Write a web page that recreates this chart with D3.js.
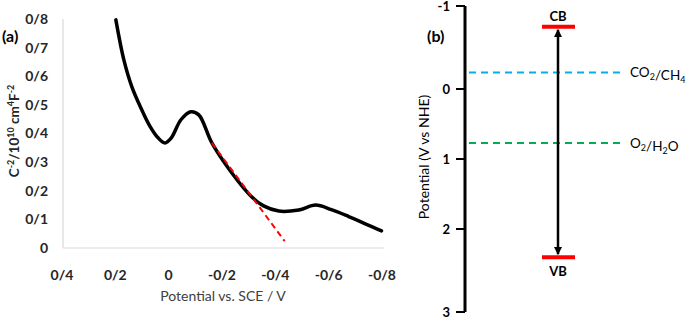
<!DOCTYPE html>
<html lang="en">
<head>
<meta charset="UTF-8" />
<title>Mott-Schottky and band positions</title>
<script src="https://cdn.jsdelivr.net/npm/d3@7"></script>
<style>
  body { margin: 0; background: #fff; }
  svg { display: block; font-family: Lato, "Open Sans", sans-serif; }
</style>
</head>
<body>
<div id="chart"></div>
<script>
// panel (a) - Mott-Schottky curve
var xTicks = [0.4, 0.2, 0, -0.2, -0.4, -0.6, -0.8];
var yTicks = [0, 0.1, 0.2, 0.3, 0.4, 0.5, 0.6, 0.7, 0.8];
var curveV = [0.198, 0.168, 0.138, 0.101, 0.070, 0.040, 0.014, -0.010, -0.046, -0.083, -0.113, -0.162, -0.237, -0.312, -0.356, -0.413, -0.488, -0.551, -0.610, -0.675, -0.798];
var curveC = [0.797, 0.657, 0.563, 0.483, 0.425, 0.385, 0.367, 0.385, 0.448, 0.476, 0.465, 0.367, 0.262, 0.178, 0.147, 0.129, 0.133, 0.150, 0.134, 0.110, 0.060];
var fitV = [-0.162, -0.435];
var fitC = [0.367, 0.024];

// panel (b) - band diagram
var potTicks = [-1, 0, 1, 2, 3];
var bands = ["CB", "VB"];
var bandValues = [-0.75, 2.34];
var couples = ["CO2/CH4", "O2/H2O"];
var coupleValues = [-0.2, 0.77];
var coupleColors = ["#00b0f0", "#00b050"];

var width = 685, height = 317;
var svg = d3.select("#chart").append("svg")
  .attr("width", width).attr("height", height);

function fmt(v) {
  if (Math.abs(v) < 1e-9) return "0";
  return String(+v.toFixed(1)).replace(".", "/");
}

// ---------- (a) ----------
var x = d3.scaleLinear().domain([0.4, -0.8]).range([62, 382]);
var y = d3.scaleLinear().domain([0, 0.8]).range([248, 19]);

svg.append("line")
  .attr("x1", 63).attr("x2", 63).attr("y1", y(0.8)).attr("y2", y(0))
  .attr("stroke", "#d9d9d9").attr("stroke-width", 1.2);
svg.append("line")
  .attr("x1", 63).attr("x2", 384).attr("y1", y(0)).attr("y2", y(0))
  .attr("stroke", "#d9d9d9").attr("stroke-width", 1.2);

svg.selectAll(".ylab").data(yTicks).enter().append("text")
  .attr("class", "ylab")
  .attr("x", 48).attr("y", function(d){ return y(d); })
  .attr("dy", "0.35em").attr("text-anchor", "end")
  .style("font-size", "14px").style("font-weight", "bold").style("fill", "#262626")
  .text(fmt);

svg.selectAll(".xlab").data(xTicks).enter().append("text")
  .attr("class", "xlab")
  .attr("x", function(d){ return x(d); }).attr("y", 275)
  .attr("dy", "0.35em").attr("text-anchor", "middle")
  .style("font-size", "14px").style("font-weight", "bold").style("fill", "#262626")
  .text(fmt);

svg.append("text")
  .attr("x", 223).attr("y", 296).attr("dy", "0.35em").attr("text-anchor", "middle")
  .style("font-size", "14px").style("fill", "#404040")
  .text("Potential vs. SCE / V");

var yt = svg.append("text")
  .attr("transform", "translate(14,131) rotate(-90)")
  .attr("text-anchor", "middle").attr("dy", "0.35em")
  .style("font-size", "13.5px").style("font-weight", "bold").style("fill", "#262626");
yt.append("tspan").text("C");
yt.append("tspan").attr("dy", -5).style("font-size", "9px").text("-2");
yt.append("tspan").attr("dy", 5).text("/10");
yt.append("tspan").attr("dy", -5).style("font-size", "9px").text("10");
yt.append("tspan").attr("dy", 5).text(" cm");
yt.append("tspan").attr("dy", -5).style("font-size", "9px").text("4");
yt.append("tspan").attr("dy", 5).text("F");
yt.append("tspan").attr("dy", -5).style("font-size", "9px").text("-2");

svg.append("text").attr("x", 2).attr("y", 36).attr("dy", "0.35em")
  .style("font-size", "16px").style("font-weight", "bold").style("fill", "#000")
  .text("(a)");

var pts = curveV.map(function(v, i){ return [v, curveC[i]]; });
var line = d3.line()
  .x(function(d){ return x(d[0]); })
  .y(function(d){ return y(d[1]); })
  .curve(d3.curveCatmullRom);

svg.append("path").datum(pts).attr("d", line)
  .attr("fill", "none").attr("stroke", "#000").attr("stroke-width", 3.5)
  .attr("stroke-linejoin", "round").attr("stroke-linecap", "round");

svg.append("line")
  .attr("x1", x(fitV[0])).attr("y1", y(fitC[0]))
  .attr("x2", x(fitV[1])).attr("y2", y(fitC[1]))
  .attr("stroke", "#ff0000").attr("stroke-width", 2)
  .attr("stroke-dasharray", "6,4");

// ---------- (b) ----------
var p = d3.scaleLinear().domain([-1, 0, 1, 2, 3]).range([6, 89, 159, 229, 312]);
var axX = 465;

svg.append("line")
  .attr("x1", axX).attr("x2", axX).attr("y1", p(-1)).attr("y2", p(3))
  .attr("stroke", "#000").attr("stroke-width", 3);
svg.selectAll(".ptick").data(potTicks).enter().append("line")
  .attr("class", "ptick")
  .attr("x1", 456).attr("x2", axX)
  .attr("y1", function(d){ return p(d); }).attr("y2", function(d){ return p(d); })
  .attr("stroke", "#000").attr("stroke-width", 2);
svg.selectAll(".plab").data(potTicks).enter().append("text")
  .attr("class", "plab")
  .attr("x", 450).attr("y", function(d){ return p(d); })
  .attr("dy", "0.35em").attr("text-anchor", "end")
  .style("font-size", "13px").style("font-weight", "bold").style("fill", "#000")
  .text(function(d){ return d; });

svg.append("text")
  .attr("transform", "translate(424,157) rotate(-90)")
  .attr("text-anchor", "middle").attr("dy", "0.35em")
  .style("font-size", "14px").style("fill", "#000")
  .text("Potential (V vs NHE)");

svg.append("text").attr("x", 427).attr("y", 36).attr("dy", "0.35em")
  .style("font-size", "16px").style("font-weight", "bold").style("fill", "#000")
  .text("(b)");

// redox couples
couples.forEach(function(c, i){
  var yy = p(coupleValues[i]);
  svg.append("line")
    .attr("x1", 469).attr("x2", 622).attr("y1", yy).attr("y2", yy)
    .attr("stroke", coupleColors[i]).attr("stroke-width", 2)
    .attr("stroke-dasharray", "7,5");
  var parts = c.split("/");
  var t = svg.append("text").attr("x", 630).attr("y", yy).attr("dy", "0.35em")
    .style("font-size", "13.5px").style("fill", "#000");
  [parts[0], "/", parts[1]].forEach(function(s){
    var m = s.match(/^([A-Z]+)(\d?)([A-Z]*)$/);
    if (!m) { t.append("tspan").text(s); return; }
    t.append("tspan").text(m[1]);
    if (m[2]) {
      t.append("tspan").attr("dy", 3).style("font-size", "9px").text(m[2]);
      t.append("tspan").attr("dy", -3).text(m[3]);
    }
  });
});

// band edges
var bx = 558;
svg.append("defs").selectAll("marker").data(["head"]).enter().append("marker")
  .attr("id", "head").attr("viewBox", "0 0 10 10")
  .attr("refX", 9).attr("refY", 5)
  .attr("markerWidth", 3.2).attr("markerHeight", 3.2)
  .attr("orient", "auto-start-reverse")
  .append("path").attr("d", "M0,0L10,5L0,10Z").attr("fill", "#000");

svg.append("line")
  .attr("x1", bx).attr("x2", bx)
  .attr("y1", p(bandValues[0]) + 3).attr("y2", p(bandValues[1]) - 3)
  .attr("stroke", "#000").attr("stroke-width", 2.5)
  .attr("marker-start", "url(#head)").attr("marker-end", "url(#head)");

bands.forEach(function(b, i){
  var yy = p(bandValues[i]);
  svg.append("line")
    .attr("x1", 542).attr("x2", 575).attr("y1", yy).attr("y2", yy)
    .attr("stroke", "#ff0000").attr("stroke-width", 4);
  svg.append("text")
    .attr("x", bx).attr("y", i === 0 ? yy - 10 : yy + 14)
    .attr("dy", "0.35em").attr("text-anchor", "middle")
    .style("font-size", "13px").style("font-weight", "bold").style("fill", "#000")
    .text(b);
});
</script>
</body>
</html>
